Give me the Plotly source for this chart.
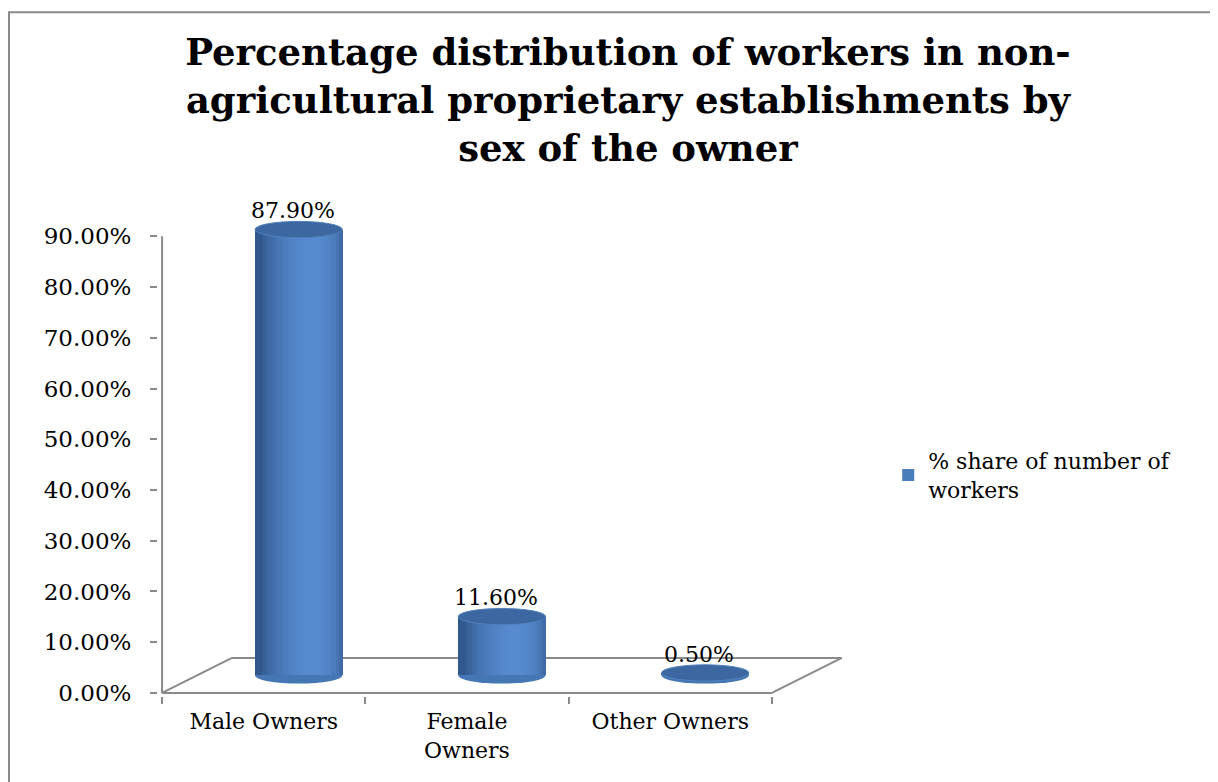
import numpy as np
import plotly.graph_objects as go

# data
categories = ["Male Owners", "Female Owners", "Other Owners"]
tick_labels = ["Male Owners", "Female<br>Owners", "Other Owners"]
share = [0.879, 0.116, 0.005]
y_ticks = [0.0, 0.1, 0.2, 0.3, 0.4, 0.5, 0.6, 0.7, 0.8, 0.9]
series_name = "% share of number of<br>workers"
title = ("Percentage distribution of workers in non-<br>"
         "agricultural proprietary establishments by<br>"
         "sex of the owner")

# fake 3d look: floor depth in axis units
depth_x = 0.344
depth_y = 0.069
x_off = depth_x / 2
base = depth_y / 2
bar_w = 0.43
cap_h = 0.016
n_strips = 26

SERIF = "DejaVu Serif, Liberation Serif, serif"
GRAY = "#8a8a8a"

dark = np.array([0x31, 0x57, 0x8c])
light = np.array([0x57, 0x8a, 0xcf])


def shade(u):
    # u in [-1, 1] across the cylinder, light a bit right of center
    t = np.cos((np.arcsin(np.clip(u, -0.999, 0.999)) - 0.3) * 1.1)
    t = max(0.0, t) ** 1.2
    c = dark + (light - dark) * t
    return "rgb(%d,%d,%d)" % tuple(c.astype(int))


fig = go.Figure()

# main bar (carries the legend entry)
fig.add_trace(go.Bar(
    x=categories, y=share, base=base, name=series_name,
    width=bar_w, offset=x_off - bar_w / 2,
    marker=dict(color="#4a7ebb", line=dict(width=0)),
    hoverinfo="x+y",
))

# shading strips
sw = bar_w / n_strips
for k in range(n_strips):
    u = -1 + (k + 0.5) * 2 / n_strips
    fig.add_trace(go.Bar(
        x=categories, y=share, base=base, showlegend=False,
        width=sw * 1.08, offset=x_off - bar_w / 2 + k * sw,
        marker=dict(color=shade(u), line=dict(width=0)),
        hoverinfo="skip",
    ))

shapes = []
# floor
floor_line = dict(color=GRAY, width=2)
shapes.append(dict(type="line", xref="x", yref="y", x0=-0.5, y0=0, x1=2.5, y1=0,
                   line=floor_line, layer="below"))
shapes.append(dict(type="line", xref="x", yref="y", x0=-0.5, y0=0,
                   x1=-0.5 + depth_x, y1=depth_y, line=floor_line, layer="below"))
shapes.append(dict(type="line", xref="x", yref="y", x0=-0.5 + depth_x, y0=depth_y,
                   x1=2.5 + depth_x, y1=depth_y, line=floor_line, layer="below"))
shapes.append(dict(type="line", xref="x", yref="y", x0=2.5 + depth_x, y0=depth_y,
                   x1=2.5, y1=0, line=floor_line, layer="below"))
# y axis line
shapes.append(dict(type="line", xref="x", yref="y", x0=-0.5, y0=0, x1=-0.5, y1=y_ticks[-1],
                   line=floor_line, layer="below"))

annotations = []
for i, v in enumerate(share):
    cx = i + x_off
    # bottom cap
    shapes.append(dict(type="circle", xref="x", yref="y",
                       x0=cx - bar_w / 2, x1=cx + bar_w / 2,
                       y0=base - cap_h, y1=base + cap_h,
                       fillcolor="#4677b5", line=dict(width=0), layer="below"))
    # top cap
    shapes.append(dict(type="circle", xref="x", yref="y",
                       x0=cx - bar_w / 2, x1=cx + bar_w / 2,
                       y0=base + v - cap_h, y1=base + v + cap_h,
                       fillcolor="#3c67a0", line=dict(color="#4f80bd", width=1), layer="above"))
    annotations.append(dict(x=cx - 0.03, y=base + v + cap_h, xref="x", yref="y",
                            text="%.2f%%" % (v * 100), showarrow=False,
                            yanchor="bottom", yshift=-4,
                            font=dict(family=SERIF, size=22, color="black")))

# outer chart border
shapes.append(dict(type="rect", xref="paper", yref="paper",
                   x0=-0.2175, x1=1.58, y0=-0.25, y1=1.41,
                   line=dict(color=GRAY, width=2), fillcolor="rgba(0,0,0,0)"))

fig.update_layout(
    width=1218, height=782,
    margin=dict(l=150, r=383, t=203, b=94),
    paper_bgcolor="white", plot_bgcolor="white",
    barmode="overlay", bargap=0,
    title=dict(text=title, x=0.509, xref="container", xanchor="center",
               y=0.927, yref="container", yanchor="top",
               font=dict(family=SERIF, size=37, color="black", weight="bold")),
    showlegend=True,
    legend=dict(x=1.066, y=0.455, xanchor="left", yanchor="middle",
                itemwidth=30,
                font=dict(family=SERIF, size=22, color="black"),
                bgcolor="rgba(0,0,0,0)"),
    shapes=shapes,
    annotations=annotations,
)

fig.update_xaxes(
    type="category", range=[-0.52, 2.85],
    tickvals=categories, ticktext=tick_labels,
    tickson="boundaries", ticks="outside", ticklen=7, tickcolor=GRAY, tickwidth=2,
    showline=False, showgrid=False, zeroline=False,
    ticklabelstandoff=10,
    tickfont=dict(family=SERIF, size=22, color="black"),
)
fig.update_yaxes(
    range=[-0.006, 0.95], tickvals=y_ticks, tickformat=".2%",
    ticks="outside", ticklen=7, tickcolor=GRAY, tickwidth=2,
    showline=False, showgrid=False, zeroline=False,
    ticklabelstandoff=14,
    tickfont=dict(family=SERIF, size=23, color="black"),
)

fig.write_html("out.html")
